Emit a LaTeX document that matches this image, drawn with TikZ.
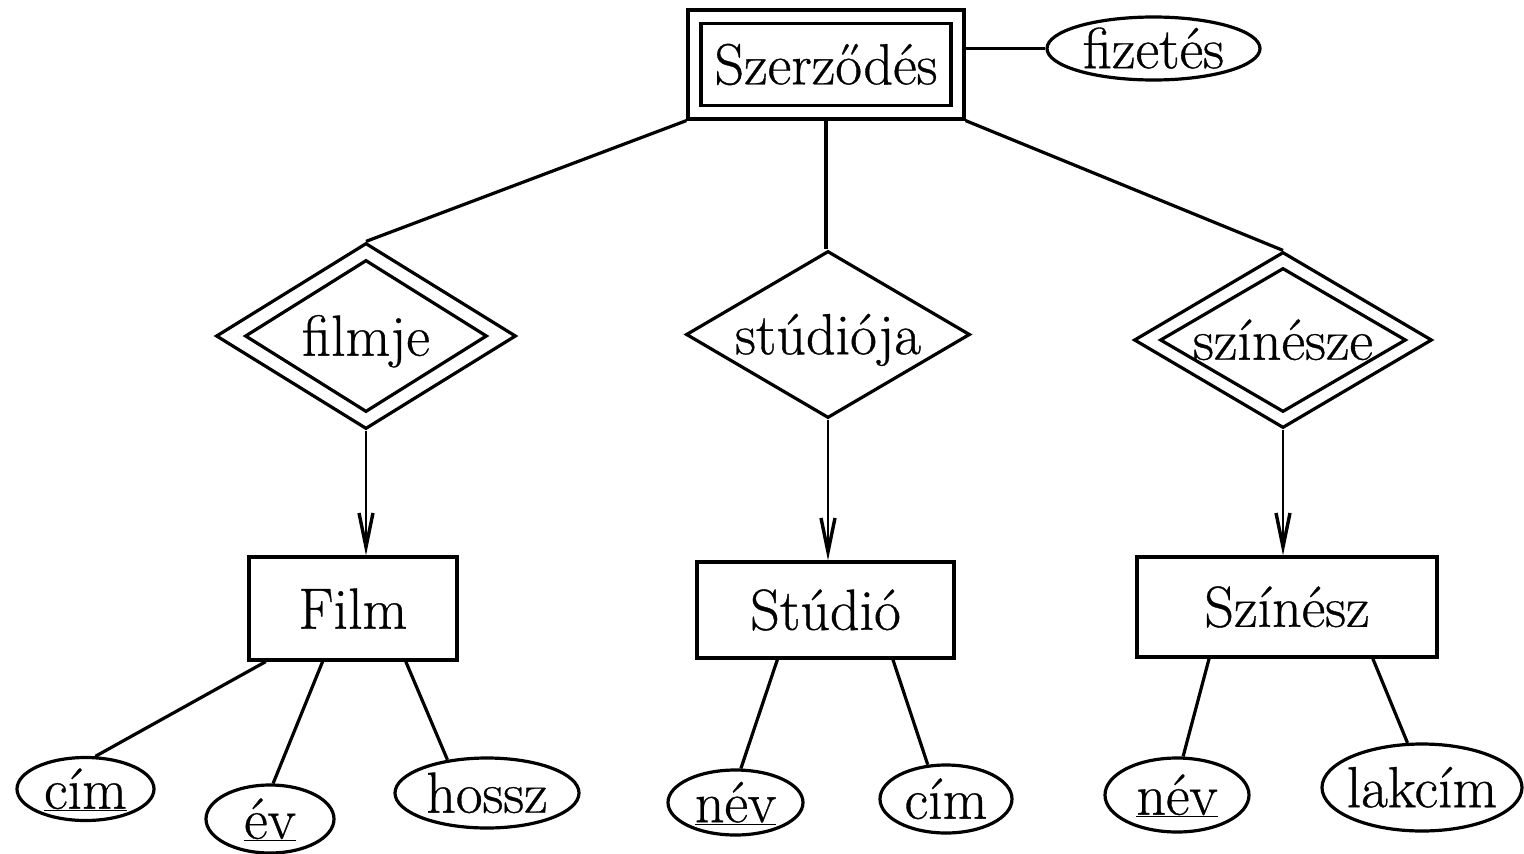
\documentclass[tikz,border=0pt]{standalone}
\usepackage{fontspec}
\setmainfont{Latin Modern Roman}[FakeBold=0.6]
\usetikzlibrary{shapes.geometric,arrows.meta,calc}
\newcommand{\dtxt}[1]{\raisebox{-0.34em}[0pt][0pt]{\makebox[0pt]{#1}}}
\begin{document}
\begin{tikzpicture}[x=1pt,y=-1pt,
  every node/.style={font=\fontsize{58}{64}\selectfont, inner sep=0pt, line width=3.2pt},
  ent/.style={draw, rectangle},
  rel/.style={draw, diamond},
  attr/.style={draw, ellipse},
  conn/.style={line width=3.2pt},
  arr/.style={line width=2.8pt, -{Straight Barb[length=34pt,width=14pt,line width=3.4pt]}}
]
\useasboundingbox (0,0) rectangle (1524,854);

% entity sets
\node[ent, minimum width=276pt, minimum height=109pt] (szerz) at (826,64.5) {Szerződés};
\node[ent, minimum width=250pt, minimum height=82pt] (szerzIn) at (szerz.center) {};
\node[ent, minimum width=208pt, minimum height=103pt] (film) at (353,608.5) {Film};
\node[ent, minimum width=257pt, minimum height=96pt] (studio) at (825.5,610) {Stúdió};
\node[ent, minimum width=300pt, minimum height=100pt] (szinesz) at (1287,607) {Színész};

% relationships
\node[rel, minimum width=300pt, minimum height=186pt] (filmje) at (366,336) {\dtxt{filmje}};
\node[rel, minimum width=242pt, minimum height=152pt] (filmjeIn) at (filmje.center) {};
\node[rel, minimum width=284pt, minimum height=167pt] (studioja) at (828,334.5) {\dtxt{stúdiója}};
\node[rel, minimum width=298pt, minimum height=176pt] (szinesze) at (1283,340) {\dtxt{színésze}};
\node[rel, minimum width=246pt, minimum height=144pt] (szineszeIn) at (szinesze.center) {};

% attributes
\node[attr, minimum width=213pt, minimum height=63pt] (fiz) at (1153.5,48.5) {\dtxt{fizetés}};
\node[attr, minimum width=137pt, minimum height=63pt] (cim1) at (85.5,789) {\dtxt{\underline{cím}}};
\node[attr, minimum width=128pt, minimum height=68pt] (ev) at (270,819) {\dtxt{\underline{év}}};
\node[attr, minimum width=184pt, minimum height=70pt] (hossz) at (487,793) {\dtxt{hossz}};
\node[attr, minimum width=135pt, minimum height=65pt] (nev1) at (735.5,802.5) {\dtxt{\underline{név}}};
\node[attr, minimum width=132pt, minimum height=68pt] (cim2) at (946,799) {\dtxt{cím}};
\node[attr, minimum width=144pt, minimum height=74pt] (nev2) at (1177,795) {\dtxt{\underline{név}}};
\node[attr, minimum width=200pt, minimum height=87pt] (lakcim) at (1422,787.5) {\dtxt{lakcím}};

% connectors
\draw[conn] (fiz.west -| szerz.east) -- (fiz.west);
\draw[conn] (szerz.south west) -- (filmje.north);
\draw[conn] (szerz.south) -- (szerz.south |- studioja.north);
\draw[conn] (szerz.south east) -- (szinesze.north);

\draw[arr] (filmje.south) -- (filmje.south |- film.north);
\draw[arr] (studioja.south) -- (studioja.south |- studio.north);
\draw[arr] (szinesze.south) -- (szinesze.south |- szinesz.north);

\draw[conn] ($(film.south west)!0.087!(film.south east)$) -- (cim1.73);
\draw[conn] ($(film.south west)!0.356!(film.south east)$) -- (ev.85);
\draw[conn] ($(film.south west)!0.75!(film.south east)$) -- (hossz.140);
\draw[conn] ($(studio.south west)!0.315!(studio.south east)$) -- (nev1.81);
\draw[conn] ($(studio.south west)!0.759!(studio.south east)$) -- (cim2.118);
\draw[conn] ($(szinesz.south west)!0.243!(szinesz.south east)$) -- (nev2.81);
\draw[conn] ($(szinesz.south west)!0.783!(szinesz.south east)$) -- (lakcim.108);
\end{tikzpicture}
\end{document}
